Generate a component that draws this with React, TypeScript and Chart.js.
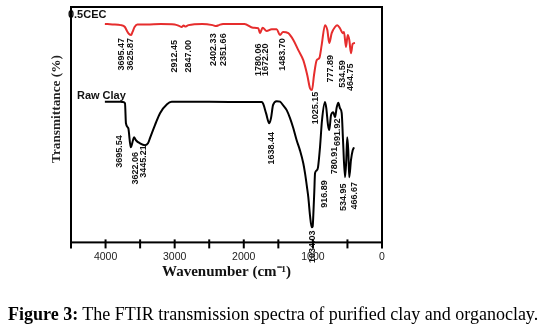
import React, { useEffect, useRef } from "react";
import { Chart, registerables } from "chart.js";

Chart.register(...registerables);

// 0.5CEC (organoclay) spectrum
const cecWavenumbers = [4010, 3900, 3780, 3720, 3690, 3660, 3630, 3610, 3580, 3540, 3400, 3200, 3000, 2930, 2900, 2870, 2850, 2800, 2600, 2450, 2400, 2360, 2300, 2100, 1990, 1866, 1790, 1765, 1727, 1669, 1596, 1524, 1476, 1432, 1356, 1283, 1211, 1139, 1081, 1042, 1013, 984, 945, 907, 873, 825, 791, 763, 728, 680, 647, 608, 569, 550, 521, 496, 473, 449, 424, 391];
const cecValues = [92.8, 92.6, 92.3, 91.5, 89.8, 88.5, 88.1, 89.4, 91.5, 92.6, 92.6, 92.8, 92.6, 91.9, 91.5, 92.1, 91.7, 92.3, 92.8, 92.3, 91.9, 92.3, 92.8, 92.8, 92.8, 91.2, 91, 88.9, 91.2, 89.8, 90.6, 90.6, 88.1, 89.4, 88.9, 86, 81.7, 77.4, 71, 65.5, 64.7, 71, 77.4, 78.3, 83.8, 92.3, 90.2, 84.7, 88.9, 91.5, 92.3, 91, 88.9, 89.4, 83, 88.1, 86, 80.4, 84.3, 84.7];

// Raw clay spectrum
const rawWavenumbers = [4010, 3780, 3748, 3719, 3705, 3671, 3636, 3603, 3588, 3560, 3502, 3429, 3386, 3357, 3285, 3212, 3111, 3043, 2500, 1910, 1736, 1717, 1678, 1631, 1606, 1577, 1524, 1476, 1432, 1379, 1331, 1283, 1235, 1187, 1139, 1114, 1085, 1066, 1042, 1017, 1003, 994, 979, 969, 945, 926, 897, 868, 825, 806, 781, 763, 738, 705, 680, 655, 632, 608, 583, 564, 535, 517, 503, 488, 474, 449, 424, 405];
const rawValues = [59.7, 59.7, 59.6, 59.1, 50.6, 48.5, 40.4, 43.4, 44.7, 43.4, 42.1, 41.3, 42.1, 44.3, 49.8, 54.9, 58.7, 59.7, 59.7, 59.6, 59.6, 58.7, 54.9, 50.6, 52.8, 58.3, 60, 59.8, 58.3, 56.2, 52.8, 48.5, 43.4, 39.1, 33.6, 29.4, 23.4, 19.1, 11.5, 6.4, 6.8, 11.5, 22.1, 29.4, 30.6, 31.9, 40.4, 51.9, 59.6, 57, 49.8, 47.7, 54, 55.3, 53.2, 57.4, 59.3, 57, 54.9, 43.4, 27.7, 34.9, 44.7, 39.1, 27.7, 34.9, 39.1, 40.4];

// Peak annotations (text, wavenumber where drawn, top end level)
const cecPeakLabels = ["3695.47", "3625.87", "2912.45", "2847.00", "2402.33", "2351.66", "1780.06", "1672.20", "1483.70", "1025.15", "777.89", "534.59", "464.75"];
const cecLabelWavenumbers = [3766, 3646, 2995, 2803, 2441, 2296, 1790, 1683, 1442, 969, 738, 569, 449];
const cecLabelTops = [86.8, 86.8, 86.0, 86.0, 88.8, 88.8, 84.5, 84.5, 86.7, 64.0, 79.6, 77.4, 76];

const rawPeakLabels = ["3695.54", "3622.06", "3445.21", "1638.44", "1034.03", "916.89", "780.91", "691.92", "534.95", "466.67"];
const rawLabelWavenumbers = [3791, 3560, 3444, 1596, 1003, 839, 690, 641, 550, 391];
const rawLabelTops = [45.5, 38.4, 41.3, 46.9, 5.1, 26.4, 40.6, 52.6, 25, 25.7];

const seriesNames = ["0.5CEC", "Raw Clay"];
const seriesNamePos = [[4545, 96.6], [4414, 62.1]];

const xTickStep = 500;
const xMin = 0;
const xMax = 4500;
const xTitle = "Wavenumber (cm\u207B\u00B9)";
const yTitle = "Transmittance (%)";

const RED = "rgb(230,45,45)";

export default function App() {
  const ref = useRef<HTMLCanvasElement | null>(null);

  useEffect(() => {
    const canvas = ref.current;
    if (!canvas) return;

    const overlay = {
      id: "overlay",
      afterDraw(chart: any) {
        const ctx = chart.ctx as CanvasRenderingContext2D;
        const xs = chart.scales.x;
        const ys = chart.scales.y;
        const area = chart.chartArea;
        ctx.save();
        // peak labels
        const drawRot = (text: string, wn: number, top: number, color: string) => {
          const px = xs.getPixelForValue(wn);
          const py = ys.getPixelForValue(top);
          ctx.save();
          ctx.translate(px, py);
          ctx.rotate(-Math.PI / 2);
          ctx.font = "bold 9px 'Liberation Sans', Arial, sans-serif";
          ctx.fillStyle = color;
          ctx.textAlign = "right";
          ctx.textBaseline = "middle";
          ctx.fillText(text, 0, 0);
          ctx.restore();
        };
        cecPeakLabels.forEach((t, i) => drawRot(t, cecLabelWavenumbers[i], cecLabelTops[i], "#111"));
        rawPeakLabels.forEach((t, i) => drawRot(t, rawLabelWavenumbers[i], rawLabelTops[i], "#111"));

        // series names
        ctx.font = "bold 11px 'Liberation Sans', Arial, sans-serif";
        ctx.fillStyle = "#111";
        ctx.textAlign = "left";
        ctx.textBaseline = "middle";
        seriesNames.forEach((n, i) => {
          ctx.fillText(n, xs.getPixelForValue(seriesNamePos[i][0]), ys.getPixelForValue(seriesNamePos[i][1]));
        });

        // frame
        ctx.strokeStyle = "#000";
        ctx.lineWidth = 2;
        ctx.strokeRect(area.left, area.top, area.right - area.left, area.bottom - area.top);

        // x ticks crossing the axis
        xs.ticks.forEach((t: any) => {
          const px = xs.getPixelForValue(t.value);
          ctx.beginPath();
          ctx.moveTo(px, area.bottom - 3);
          ctx.lineTo(px, area.bottom + 6);
          ctx.stroke();
        });

        // x axis title
        ctx.font = "bold 15px 'Liberation Serif', 'Times New Roman', serif";
        ctx.fillStyle = "#111";
        ctx.textAlign = "center";
        ctx.textBaseline = "alphabetic";
        ctx.fillText(xTitle, (area.left + area.right) / 2, area.bottom + 34);

        // y axis title
        ctx.save();
        ctx.font = "bold 13px 'Liberation Serif', 'Times New Roman', serif";
        const w = ctx.measureText(yTitle).width;
        const target = 108;
        ctx.translate(area.left - 14, area.top + 102);
        ctx.rotate(-Math.PI / 2);
        ctx.scale(target / w, 1);
        ctx.fillStyle = "#222";
        ctx.textAlign = "center";
        ctx.textBaseline = "middle";
        ctx.fillText(yTitle, 0, 0);
        ctx.restore();

        ctx.restore();
      },
    };

    const chart = new Chart(canvas, {
      type: "line",
      data: {
        datasets: [
          {
            label: seriesNames[0],
            data: cecWavenumbers.map((x, i) => ({ x, y: cecValues[i] })),
            borderColor: RED,
            borderWidth: 2,
            pointRadius: 0,
            cubicInterpolationMode: "monotone",
            fill: false,
          },
          {
            label: seriesNames[1],
            data: rawWavenumbers.map((x, i) => ({ x, y: rawValues[i] })),
            borderColor: "#000",
            borderWidth: 2,
            pointRadius: 0,
            cubicInterpolationMode: "monotone",
            fill: false,
          },
        ],
      },
      options: {
        responsive: false,
        animation: false,
        devicePixelRatio: 1,
        layout: { padding: { left: 71, right: 165, top: 7, bottom: 63 } },
        plugins: { legend: { display: false }, tooltip: { enabled: false } },
        scales: {
          x: {
            type: "linear",
            min: xMin,
            max: xMax,
            reverse: true,
            grid: { display: false, drawTicks: false },
            border: { display: false },
            ticks: {
              stepSize: xTickStep,
              autoSkip: false,
              maxRotation: 0,
              padding: 8,
              color: "#222",
              font: { family: "'Liberation Sans', Arial, sans-serif", size: 10.5 },
              callback: (v: any) => (Number(v) % 1000 === 0 ? String(v) : ""),
            },
            title: { display: false },
          },
          y: { display: false, min: 0, max: 100 },
        },
      },
      plugins: [overlay],
    });
    return () => chart.destroy();
  }, []);

  return (
    <div style={{ position: "absolute", left: 0, top: 0, width: 547, height: 334, background: "#fff" }}>
      <canvas ref={ref} width={547} height={334} style={{ position: "absolute", left: 0, top: 0 }} />
      <div
        style={{
          position: "absolute",
          left: 8,
          top: 304,
          fontFamily: "'Liberation Serif', 'Times New Roman', serif",
          fontSize: 18,
          lineHeight: "normal",
          color: "#000",
          whiteSpace: "nowrap",
        }}
      >
        <b>Figure 3:</b> The FTIR transmission spectra of purified clay and organoclay.
      </div>
    </div>
  );
}
